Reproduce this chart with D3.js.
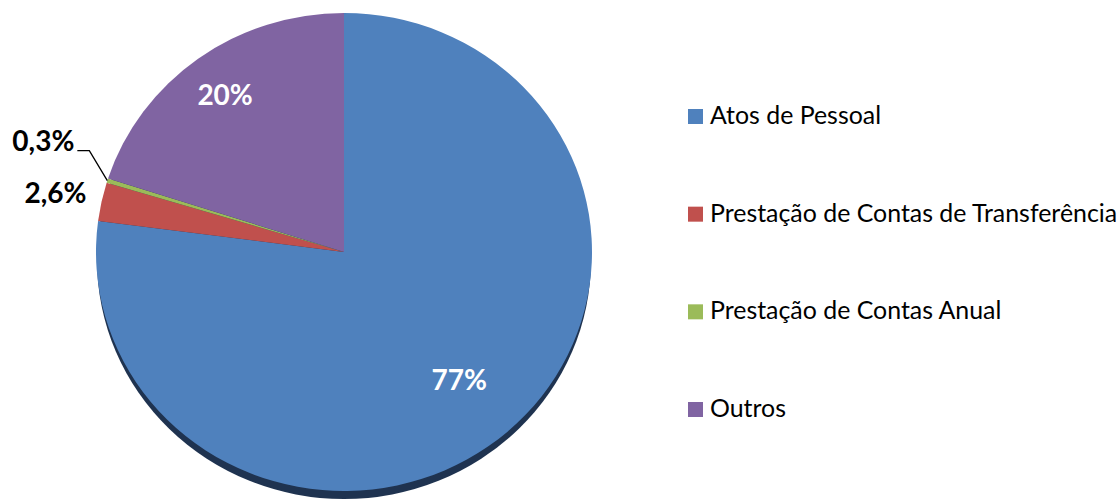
<!DOCTYPE html>
<html>
<head>
<meta charset="utf-8">
<script src="https://cdn.jsdelivr.net/npm/d3@7"></script>
<style>
  html, body { margin: 0; padding: 0; background: #fff; }
  svg { display: block; }
</style>
</head>
<body>
<svg id="chart" width="1119" height="502"></svg>
<script>
const categories = ["Atos de Pessoal", "Prestação de Contas de Transferência", "Prestação de Contas Anual", "Outros"];
const values = [77, 2.6, 0.3, 20];
const valueLabels = ["77%", "2,6%", "0,3%", "20%"];
const colors = ["#4F81BD", "#C0504D", "#9BBB59", "#8064A2"];

const W = 1119, H = 502;
const cx = 344, cy = 252, rx = 248, ry = 239;
const svg = d3.select("#chart");

const pie = d3.pie().sort(null).value(d => d)(values);
const arc = d3.arc().innerRadius(0).outerRadius(rx);

const g = svg.append("g").attr("transform", `translate(${cx},${cy}) scale(1,${ry/rx})`);

// 3D side shadow
svg.append("ellipse")
  .attr("cx", cx).attr("cy", cy + 8).attr("rx", rx - 1).attr("ry", ry)
  .attr("fill", "#1F3350")
  .lower();

g.selectAll("path.slice").data(pie).join("path")
  .attr("class", "slice")
  .attr("d", arc)
  .attr("fill", (d, i) => colors[i]);

// label radius factors (layout)
const labelR = [0.705, 1.19, null, 0.815];
function ellipsePoint(angle, f) {
  return [cx + Math.sin(angle) * rx * f, cy - Math.cos(angle) * ry * f];
}

const fontBold = "Lato, 'Open Sans', sans-serif";
pie.forEach((d, i) => {
  const mid = (d.startAngle + d.endAngle) / 2;
  if (labelR[i] !== null) {
    const [x, y] = ellipsePoint(mid, labelR[i]);
    svg.append("text")
      .attr("x", x).attr("y", y)
      .attr("text-anchor", "middle")
      .attr("dominant-baseline", "central")
      .attr("font-family", fontBold)
      .attr("font-weight", "bold")
      .attr("font-size", 28)
      .attr("fill", i === 1 ? "#000" : "#fff")
      .text(valueLabels[i]);
  } else {
    const p0 = ellipsePoint(mid, 1);
    const elbow = [p0[0] - 18, p0[1] - 30];
    const end = [elbow[0] - 12, elbow[1]];
    svg.append("path")
      .attr("d", d3.line()([p0, elbow, end]))
      .attr("fill", "none").attr("stroke", "#000").attr("stroke-width", 1.3);
    svg.append("text")
      .attr("x", end[0] - 3).attr("y", end[1])
      .attr("text-anchor", "end")
      .attr("font-family", fontBold)
      .attr("font-weight", "bold")
      .attr("font-size", 28)
      .attr("fill", "#000")
      .text(valueLabels[i]);
  }
});

// legend
const legend = svg.append("g").attr("transform", "translate(688,0)");
const rowY = d3.scalePoint().domain(categories).range([124, 417]);
const items = legend.selectAll("g.item").data(categories).join("g")
  .attr("class", "item")
  .attr("transform", d => `translate(0,${rowY(d)})`);
items.append("rect")
  .attr("x", 0).attr("y", -15).attr("width", 15).attr("height", 15)
  .attr("fill", (d, i) => colors[i]);
items.append("text")
  .attr("x", 22).attr("y", 0)
  .attr("font-family", "Lato, 'Open Sans', sans-serif")
  .attr("font-size", 24.9)
  .attr("fill", "#000")
  .text(d => d);
</script>
</body>
</html>
